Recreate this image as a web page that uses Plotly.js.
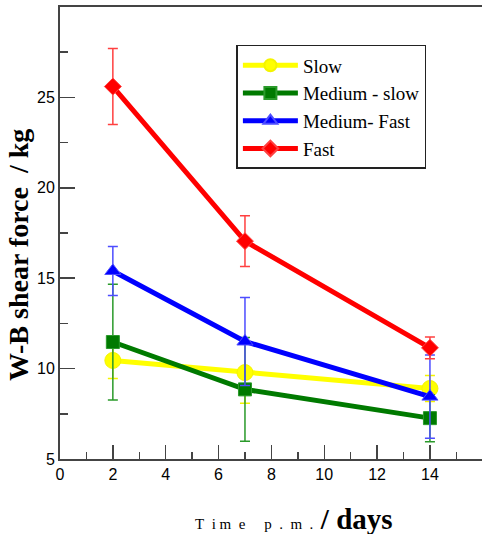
<!DOCTYPE html>
<html>
<head>
<meta charset="utf-8">
<script src="https://cdn.plot.ly/plotly-3.0.1.min.js"></script>
<style>
  html, body { margin: 0; padding: 0; background: #fff; }
  #chart { width: 482px; height: 534px; }
</style>
</head>
<body>
<div id="chart"></div>
<script>
// Storage time post mortem (days)
const days = [2, 7, 14];

// Warner-Bratzler shear force (kg), mean and error per chilling rate
const slow        = [10.45, 9.78, 8.9];
const slowErr     = [1.0, 1.7, 0.72];
const medSlow     = [11.47, 8.85, 7.26];
const medSlowErr  = [3.2, 2.87, 1.3];
const medFast     = [15.4, 11.5, 8.45];
const medFastErr  = [1.35, 2.43, 2.3];
const fast        = [25.6, 17.05, 11.15];
const fastErr     = [2.1, 1.4, 0.6];

const seriesNames = ['Slow', 'Medium - slow', 'Medium- Fast', 'Fast'];

const serif = 'Liberation Serif';
const sans = 'Liberation Sans';

function series(name, y, err, color, errColor, symbol, size) {
  return {
    type: 'scatter', mode: 'lines+markers', name: name,
    x: days, y: y,
    line: { color: color, width: 5 },
    marker: { color: color, symbol: symbol, size: size,
              line: { color: errColor, width: 1 } },
    error_y: { type: 'data', array: err, visible: true,
               color: errColor, thickness: 1.5, width: 5 }
  };
}

const traces = [
  series(seriesNames[0], slow, slowErr, '#ffff00', '#f4f400', 'circle', 16),
  series(seriesNames[1], medSlow, medSlowErr, '#007a00', '#2a9a2a', 'square', 13),
  series(seriesNames[2], medFast, medFastErr, '#0000ff', '#4d4dff', 'triangle-up', 14),
  series(seriesNames[3], fast, fastErr, '#ff0000', '#ff4040', 'diamond', 13)
];

const axisColor = '#444444';

const layout = {
  width: 482, height: 534,
  margin: { l: 60, r: 0, t: 7, b: 75 },
  paper_bgcolor: '#ffffff', plot_bgcolor: '#ffffff',
  font: { family: serif, size: 18, color: '#000' },
  showlegend: true,
  legend: {
    x: 0.418, y: 0.916, xanchor: 'left', yanchor: 'top',
    bgcolor: '#ffffff', bordercolor: '#222222', borderwidth: 1.5,
    font: { family: serif, size: 19, color: '#000' },
    itemwidth: 55, itemsizing: 'constant', tracegroupgap: 0
  },
  xaxis: {
    range: [0, 15.97], dtick: 2, tick0: 0,
    showline: true, linecolor: axisColor, linewidth: 2, mirror: true,
    ticks: 'inside', ticklen: 14, tickwidth: 1.5, tickcolor: axisColor,
    minor: { dtick: 1, ticklen: 7, tickwidth: 1.5, tickcolor: axisColor, ticks: 'inside' },
    showgrid: false, zeroline: false,
    tickfont: { family: sans, size: 16, color: '#000' }
  },
  yaxis: {
    range: [5, 30], dtick: 5, tick0: 0,
    showline: true, linecolor: axisColor, linewidth: 2,
    ticks: 'inside', ticklen: 15, tickwidth: 1.5, tickcolor: axisColor,
    minor: { dtick: 2.5, ticklen: 8, tickwidth: 1.5, tickcolor: axisColor, ticks: 'inside' },
    showgrid: false, zeroline: false,
    tickvals: [5, 10, 15, 20, 25],
    tickfont: { family: sans, size: 16, color: '#000' }
  },
  annotations: [
    {
      xref: 'paper', yref: 'paper', x: -0.1, y: 0.451,
      xanchor: 'center', yanchor: 'middle', textangle: -90, showarrow: false,
      text: '<b>W-B shear force&nbsp;&nbsp;/ kg</b>',
      font: { family: serif, size: 28, color: '#000' }
    },
    {
      xref: 'paper', yref: 'paper', x: 0.555, y: -0.132,
      xanchor: 'center', yanchor: 'middle', showarrow: false,
      text: '<span style="font-size:15px">T&nbsp;&nbsp;i&nbsp;m&nbsp;&nbsp;e&nbsp;&nbsp;&nbsp;&nbsp;&nbsp;p&nbsp;&nbsp;.&nbsp;&nbsp;m&nbsp;&nbsp;.&nbsp;&nbsp;</span><b>/ days</b>',
      font: { family: serif, size: 29, color: '#000' }
    }
  ]
};

Plotly.newPlot('chart', traces, layout, { displayModeBar: false, staticPlot: true });
</script>
</body>
</html>
